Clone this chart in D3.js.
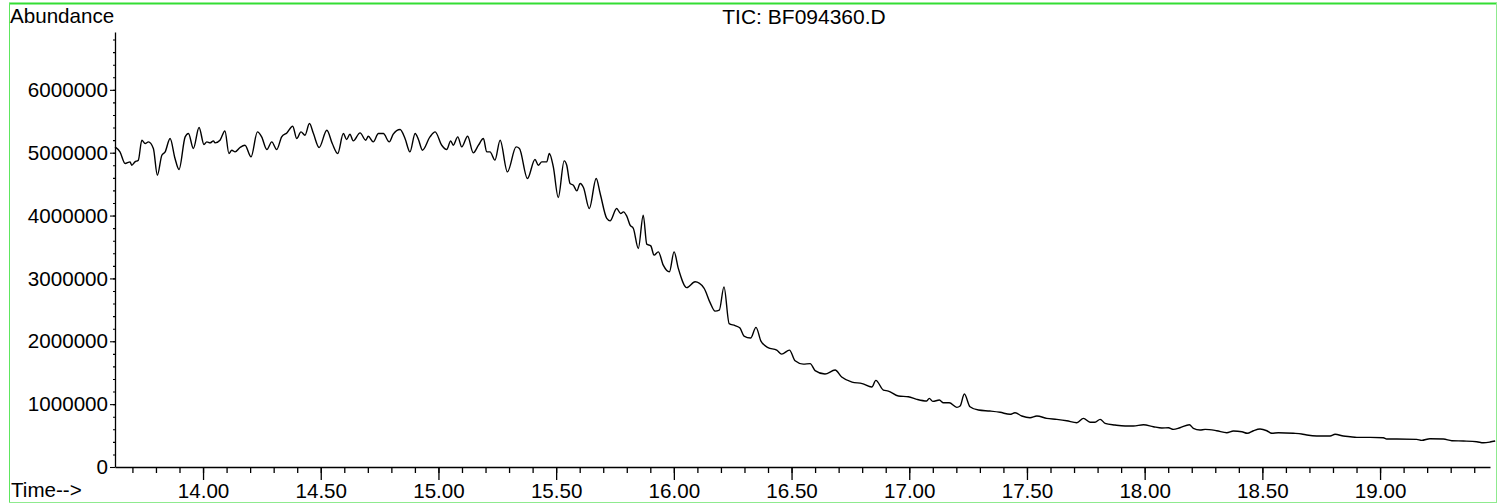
<!DOCTYPE html>
<html>
<head>
<meta charset="utf-8">
<script src="https://cdn.jsdelivr.net/npm/d3@7"></script>
<style>
  body { margin: 0; background: #fff; }
  svg { display: block; }
  text { font-family: "Liberation Sans", Arial, sans-serif; fill: #000; }
</style>
</head>
<body>
<svg id="chart" width="1497" height="504"></svg>
<script>
// TIC trace (minutes, abundance counts)
const times = [
  13.626, 13.647, 13.669, 13.690, 13.697, 13.711, 13.725, 13.740, 13.754, 13.768,
  13.789, 13.806, 13.825, 13.839, 13.860, 13.881, 13.898, 13.924, 13.938, 13.959,
  13.983, 14.004, 14.016, 14.030, 14.044, 14.051, 14.072, 14.093, 14.110, 14.122,
  14.136, 14.157, 14.178, 14.204, 14.231, 14.249, 14.271, 14.292, 14.313, 14.334,
  14.356, 14.381, 14.398, 14.416, 14.433, 14.452, 14.469, 14.493, 14.526, 14.549,
  14.572, 14.596, 14.610, 14.624, 14.638, 14.667, 14.691, 14.702, 14.723, 14.745,
  14.766, 14.791, 14.808, 14.837, 14.858, 14.879, 14.901, 14.915, 14.932, 14.964,
  14.986, 15.014, 15.035, 15.052, 15.063, 15.082, 15.099, 15.124, 15.148, 15.170,
  15.191, 15.205, 15.219, 15.240, 15.262, 15.293, 15.330, 15.344, 15.378, 15.410,
  15.424, 15.439, 15.460, 15.471, 15.488, 15.509, 15.534, 15.545, 15.559, 15.573,
  15.588, 15.602, 15.616, 15.641, 15.670, 15.687, 15.715, 15.729, 15.757, 15.774,
  15.786, 15.800, 15.814, 15.828, 15.849, 15.870, 15.885, 15.902, 15.916, 15.934,
  15.955, 15.981, 16.001, 16.019, 16.055, 16.090, 16.128, 16.154, 16.175, 16.193,
  16.213, 16.235, 16.260, 16.281, 16.298, 16.326, 16.349, 16.370, 16.400, 16.437,
  16.458, 16.491, 16.515, 16.550, 16.579, 16.600, 16.642, 16.685, 16.713, 16.757,
  16.800, 16.841, 16.858, 16.890, 16.911, 16.954, 16.996, 17.032, 17.074, 17.085,
  17.100, 17.128, 17.145, 17.170, 17.202, 17.216, 17.234, 17.258, 17.294, 17.343,
  17.386, 17.428, 17.449, 17.478, 17.513, 17.542, 17.584, 17.627, 17.669, 17.712,
  17.740, 17.768, 17.789, 17.811, 17.832, 17.874, 17.917, 17.952, 17.995, 18.037,
  18.073, 18.101, 18.122, 18.150, 18.190, 18.207, 18.235, 18.257, 18.306, 18.349,
  18.377, 18.413, 18.436, 18.462, 18.490, 18.519, 18.540, 18.568, 18.632, 18.667,
  18.689, 18.731, 18.788, 18.809, 18.844, 18.873, 18.901, 18.958, 19.014, 19.028,
  19.071, 19.156, 19.177, 19.212, 19.269, 19.305, 19.354, 19.411, 19.439, 19.467,
  19.489
];

const abundance = [
  5092000, 5013000, 4828000, 4854000, 4801000, 4854000, 4881000, 5199000, 5146000, 5172000,
  5067000, 4642000, 4960000, 5013000, 5226000, 4908000, 4733000, 5251000, 5305000, 5067000,
  5401000, 5130000, 5172000, 5156000, 5188000, 5156000, 5199000, 5346000, 4987000, 5040000,
  5013000, 5083000, 5119000, 4933000, 5331000, 5251000, 5051000, 5172000, 5051000, 5251000,
  5315000, 5421000, 5226000, 5331000, 5278000, 5464000, 5305000, 5083000, 5358000, 5146000,
  4987000, 5305000, 5210000, 5294000, 5188000, 5315000, 5199000, 5262000, 5172000, 5305000,
  5305000, 5172000, 5294000, 5369000, 5226000, 5013000, 5305000, 5210000, 5040000, 5251000,
  5331000, 5119000, 5051000, 5188000, 5119000, 5251000, 5092000, 5262000, 4997000, 5119000,
  5226000, 5013000, 5013000, 4881000, 5199000, 4695000, 5092000, 5067000, 4590000, 4892000,
  4801000, 4854000, 4854000, 4987000, 4774000, 4288000, 4870000, 4801000, 4510000, 4483000,
  4393000, 4510000, 4447000, 4113000, 4590000, 4351000, 3954000, 3916000, 4113000, 4033000,
  4059000, 3990000, 3847000, 3795000, 3477000, 4006000, 3545000, 3518000, 3370000, 3423000,
  3211000, 3105000, 3423000, 3159000, 2854000, 2946000, 2846000, 2615000, 2480000, 2496000,
  2866000, 2281000, 2250000, 2210000, 2083000, 2051000, 2221000, 2003000, 1900000, 1860000,
  1796000, 1860000, 1690000, 1637000, 1645000, 1534000, 1479000, 1542000, 1431000, 1351000,
  1327000, 1272000, 1378000, 1224000, 1208000, 1129000, 1118000, 1076000, 1049000, 1092000,
  1044000, 1065000, 1022000, 1022000, 949000, 970000, 1161000, 959000, 906000, 890000,
  870000, 838000, 863000, 811000, 784000, 811000, 774000, 758000, 736000, 704000,
  774000, 711000, 711000, 758000, 695000, 668000, 652000, 652000, 672000, 641000,
  620000, 625000, 599000, 625000, 671000, 615000, 588000, 599000, 577000, 545000,
  572000, 561000, 536000, 577000, 604000, 577000, 536000, 545000, 536000, 525000,
  509000, 493000, 493000, 520000, 493000, 482000, 472000, 472000, 466000, 445000,
  445000, 440000, 424000, 450000, 445000, 418000, 413000, 402000, 386000, 397000,
  413000
];

const timeTicks = [14, 14.5, 15, 15.5, 16, 16.5, 17, 17.5, 18, 18.5, 19];
const abundanceTicks = [0, 1000000, 2000000, 3000000, 4000000, 5000000, 6000000];

const title = "TIC: BF094360.D";
const fontSize = "20.6px";

const svg = d3.select("#chart");

// frame
svg.append("line").attr("x1", 9).attr("x2", 1497).attr("y1", 3.5).attr("y2", 3.5)
    .attr("stroke", "#33dd33").attr("stroke-width", 2);
svg.append("line").attr("x1", 9.5).attr("x2", 9.5).attr("y1", 3).attr("y2", 502)
    .attr("stroke", "#5ee65e");
svg.append("line").attr("x1", 9).attr("x2", 1497).attr("y1", 502.5).attr("y2", 502.5)
    .attr("stroke", "#8fea8f");
svg.append("line").attr("x1", 1496.5).attr("x2", 1496.5).attr("y1", 3).attr("y2", 503)
    .attr("stroke", "#8fea8f");

const x = d3.scaleLinear().domain([13.626, 19.467]).range([115, 1490]);
const y = d3.scaleLinear().domain([0, 6920000]).range([467, 32]);

// x axis: minor every 0.1 min, major every 0.5
const gx = svg.append("g").attr("transform", "translate(0,467)");
gx.append("g")
    .call(d3.axisBottom(x)
      .tickValues(d3.range(137, 195).map(d => d / 10))
      .tickSize(6).tickSizeOuter(0).tickFormat(""))
    .call(g => g.select(".domain").remove());
gx.append("g")
    .call(d3.axisBottom(x)
      .tickValues(timeTicks)
      .tickSize(13).tickSizeOuter(0).tickPadding(3)
      .tickFormat(d3.format(".2f")))
    .call(g => g.select(".domain").attr("stroke", "#000").attr("stroke-width", 1.3));
gx.selectAll("line").attr("stroke", "#000").attr("stroke-width", 1.3);
gx.selectAll("text").style("font-size", fontSize).attr("dy", "0.72em");

// y axis
const gy = svg.append("g").attr("transform", "translate(115,0)");
gy.append("g")
    .call(d3.axisLeft(y)
      .tickValues(d3.range(0, 35).map(d => d * 200000))
      .tickSize(2).tickSizeOuter(0).tickFormat(""))
    .call(g => g.select(".domain").remove());
gy.append("g")
    .call(d3.axisLeft(y)
      .tickValues(abundanceTicks)
      .tickSize(5).tickSizeOuter(0).tickPadding(2)
      .tickFormat(d3.format("d")))
    .call(g => g.select(".domain").attr("stroke", "#000").attr("stroke-width", 1.3));
gy.selectAll("line").attr("stroke", "#000").attr("stroke-width", 1.1);
gy.selectAll("text").style("font-size", fontSize);

// trace
const pts = times.map((t, i) => [t, abundance[i]]);
svg.append("path")
    .datum(pts)
    .attr("fill", "none")
    .attr("stroke", "#000")
    .attr("stroke-width", 1.4)
    .attr("stroke-linejoin", "round")
    .attr("d", d3.line()
      .x(d => x(d[0]))
      .y(d => y(d[1]))
      .curve(d3.curveMonotoneX));

// labels
svg.append("text").attr("x", 10).attr("y", 23).style("font-size", fontSize).text("Abundance");
svg.append("text").attr("x", 11).attr("y", 497).style("font-size", fontSize).text("Time-->");
svg.append("text").attr("x", 804).attr("y", 24).attr("text-anchor", "middle")
    .style("font-size", "21px").text(title);
</script>
</body>
</html>
